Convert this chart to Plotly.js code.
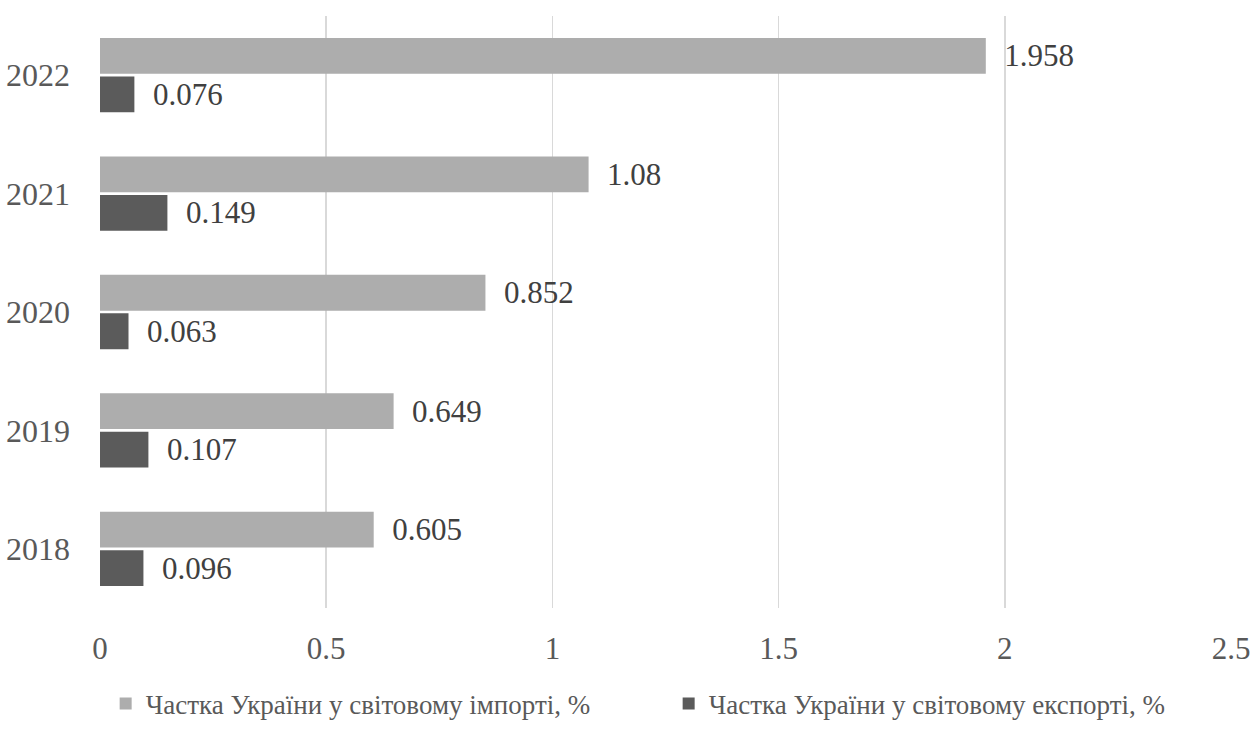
<!DOCTYPE html>
<html>
<head>
<meta charset="utf-8">
<script src="https://cdn.plot.ly/plotly-3.0.1.min.js"></script>
<style>html,body{margin:0;padding:0;background:#fff;}#chart{width:1257px;height:730px;}</style>
</head>
<body>
<div id="chart"></div>
<script>
const years = ['2018', '2019', '2020', '2021', '2022'];
const importShare = [0.605, 0.649, 0.852, 1.08, 1.958];
const exportShare = [0.096, 0.107, 0.063, 0.149, 0.076];
const importName = 'Частка України у світовому імпорті, %';
const exportName = 'Частка України у світовому експорті, %';
const xTicks = [0, 0.5, 1, 1.5, 2, 2.5];
const xTickText = ['0', '0.5', '1', '1.5', '2', '2.5'];

const font = 'Liberation Serif, Times New Roman, serif';

const traces = [
  {
    type: 'bar', orientation: 'h', name: exportName,
    y: years, x: exportShare,
    marker: {color: '#5b5b5b'},
    text: exportShare.map(v => '  ' + v),
    textposition: 'outside', cliponaxis: false,
    textfont: {family: font, size: 31, color: '#404040'},
    legendrank: 2, hoverinfo: 'x'
  },
  {
    type: 'bar', orientation: 'h', name: importName,
    y: years, x: importShare,
    marker: {color: '#adadad'},
    text: importShare.map(v => '  ' + v),
    textposition: 'outside', cliponaxis: false,
    textfont: {family: font, size: 31, color: '#404040'},
    legendrank: 1, hoverinfo: 'x'
  }
];

const layout = {
  width: 1257, height: 730,
  margin: {l: 100, r: 26, t: 16, b: 122, autoexpand: false},
  paper_bgcolor: '#fff', plot_bgcolor: '#fff',
  barmode: 'group', bargap: 0.35, bargroupgap: 0.07,
  font: {family: font, color: '#595959'},
  xaxis: {
    range: [0, 2.5], tickvals: xTicks, ticktext: xTickText,
    showgrid: true, gridcolor: '#d9d9d9', gridwidth: 1.5,
    zeroline: false, showline: false,
    tickfont: {family: font, size: 31, color: '#595959'},
    ticklabelstandoff: 19
  },
  yaxis: {
    type: 'category', categoryorder: 'array', categoryarray: years,
    showgrid: false, zeroline: false, showline: false,
    tickfont: {family: font, size: 32, color: '#595959'},
    ticklabelstandoff: 29
  },
  showlegend: true,
  legend: {
    orientation: 'h', x: 0.005, xanchor: 'left', y: -0.162, yanchor: 'middle',
    entrywidth: 518, entrywidthmode: 'pixels',
    font: {family: font, size: 27, color: '#595959'},
    itemwidth: 30
  }
};

Plotly.newPlot('chart', traces, layout, {displayModeBar: false, staticPlot: true});
</script>
</body>
</html>
